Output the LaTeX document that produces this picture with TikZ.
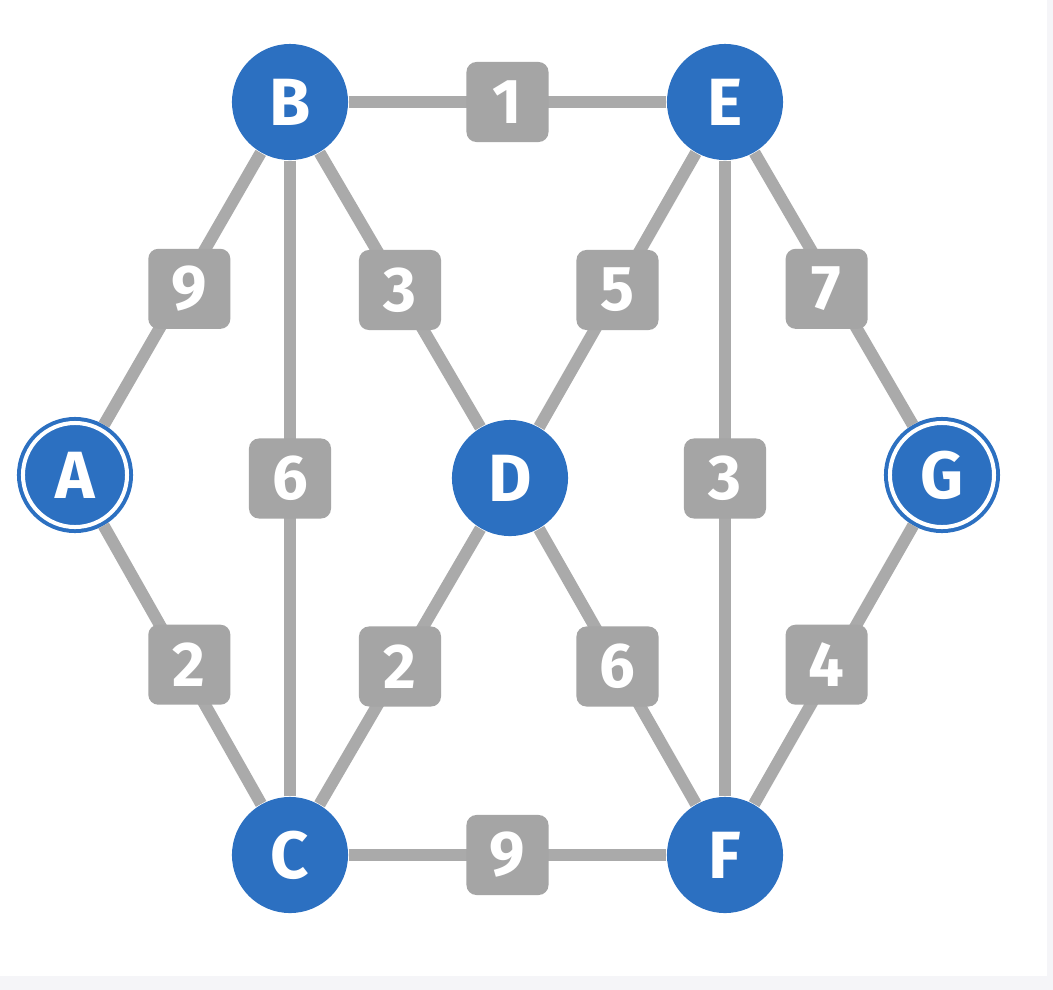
\documentclass[tikz,border=0pt]{standalone}
\usepackage{fontspec}
\setsansfont{Fira Sans}
\usepackage{tikz,xcolor}
\usetikzlibrary{calc}
\definecolor{nodeblue}{RGB}{44,112,193}
\definecolor{edgegray}{RGB}{170,170,170}
\definecolor{boxgray}{RGB}{165,165,165}
\definecolor{framegray}{RGB}{245,245,248}
\tikzset{
  % vertex of the graph
  vertex/.style={circle, fill=nodeblue, draw=none, minimum size=1.16cm, inner sep=0pt,
    text=white, font=\sffamily\bfseries\fontsize{19}{19}\selectfont},
  % start and end vertex with a white ring
  goal/.style={vertex, minimum size=1.04cm, draw=nodeblue, line width=0.04cm,
    double=white, double distance=0.04cm, outer sep=0.06cm},
  % edge and weight box
  edge/.style={draw=edgegray, line width=0.12cm},
  weight/.style={rounded corners=0.1cm, fill=boxgray, minimum width=0.82cm, minimum height=0.8cm,
    inner sep=0pt, text=white, font=\sffamily\bfseries\fontsize{18}{18}\selectfont},
}
\begin{document}
\begin{tikzpicture}[x=0.01cm, y=-0.01cm]
  \fill[framegray] (0,0) rectangle (1053,990);
  \fill[white] (0,0) rectangle (1047,976);
  \useasboundingbox (0,0) rectangle (1053,990);
  % the vertices
  \node[goal] (A) at (75,475) {A};
  \node[vertex] (B) at (290,102) {B};
  \node[vertex] (C) at (290,855) {C};
  \node[vertex] (D) at (510,478) {D};
  \node[vertex] (E) at (725,102) {E};
  \node[vertex] (F) at (725,855) {F};
  \node[goal] (G) at (942,475) {G};
  % the edges
  \draw[edge] (A) -- node[weight, xshift=0.07cm] (wAB) {9} (B);
  \draw[edge] (A) -- node[weight, xshift=0.07cm] (wAC) {2} (C);
  \draw[edge] (B) -- node[weight] (wBE) {1} (E);
  \draw[edge] (B) -- node[weight] (wBC) {6} (C);
  \draw[edge] (B) -- node[weight] (wBD) {3} (D);
  \draw[edge] (C) -- node[weight] (wCD) {2} (D);
  \draw[edge] (C) -- node[weight] (wCF) {9} (F);
  \draw[edge] (D) -- node[weight] (wDE) {5} (E);
  \draw[edge] (D) -- node[weight] (wDF) {6} (F);
  \draw[edge] (E) -- node[weight] (wEF) {3} (F);
  \draw[edge] (E) -- node[weight, xshift=-0.07cm] (wEG) {7} (G);
  \draw[edge] (G) -- node[weight, xshift=-0.07cm] (wGF) {4} (F);
\end{tikzpicture}
\end{document}
